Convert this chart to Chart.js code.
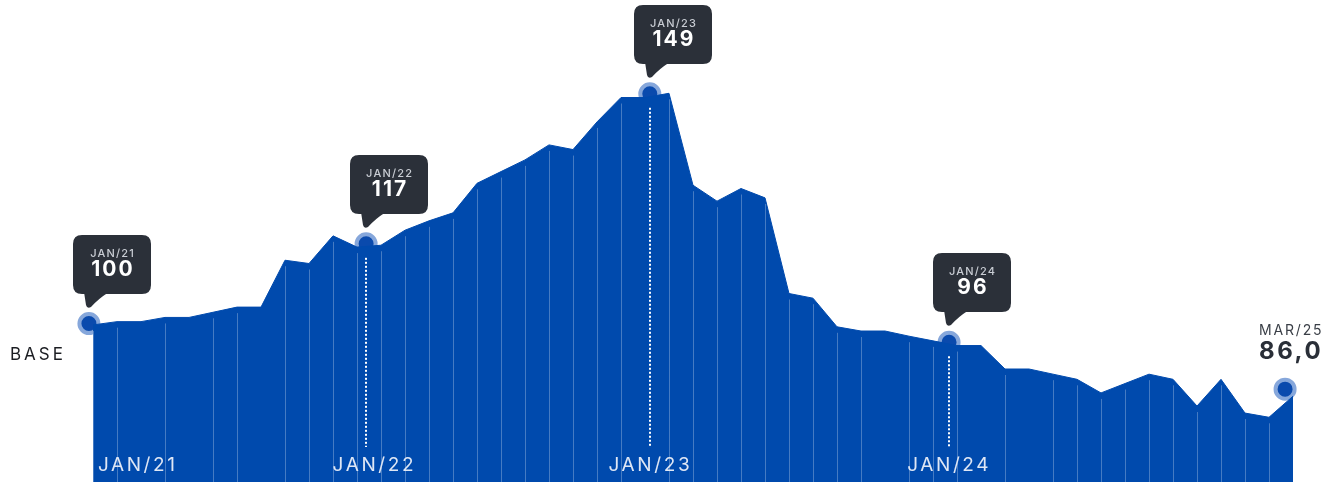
<!DOCTYPE html>
<html>
<head>
<meta charset="utf-8">
<script src="https://cdn.jsdelivr.net/npm/chart.js@4"></script>
<style>
  html, body { margin: 0; padding: 0; background: #ffffff; }
  #wrap { width: 1326px; height: 482px; position: relative; overflow: hidden; }
</style>
</head>
<body>
<div id="wrap"><canvas id="c" width="1326" height="482"></canvas></div>
<script>
// ---- data ----
const months = [
  'JAN/21','FEV/21','MAR/21','ABR/21','MAI/21','JUN/21','JUL/21','AGO/21','SET/21','OUT/21','NOV/21','DEZ/21',
  'JAN/22','FEV/22','MAR/22','ABR/22','MAI/22','JUN/22','JUL/22','AGO/22','SET/22','OUT/22','NOV/22','DEZ/22',
  'JAN/23','FEV/23','MAR/23','ABR/23','MAI/23','JUN/23','JUL/23','AGO/23','SET/23','OUT/23','NOV/23','DEZ/23',
  'JAN/24','FEV/24','MAR/24','ABR/24','MAI/24','JUN/24','JUL/24','AGO/24','SET/24','OUT/24','NOV/24','DEZ/24',
  'JAN/25','FEV/25','MAR/25'
];
const values = [
  99.7, 100.4, 100.4, 101.3, 101.3, 102.4, 103.5, 103.5, 113.5, 112.8,
  118.7, 116.3, 116.7, 119.9, 121.9, 123.6, 129.9, 132.4, 134.9, 138.1,
  137.1, 143.0, 148.2, 148.2, 149.1, 129.5, 126.1, 128.8, 126.8, 106.4,
  105.4, 99.3, 98.4, 98.4, 97.3, 96.3, 95.3, 95.3, 90.3, 90.3,
  89.2, 88.1, 85.2, 87.2, 89.2, 88.1, 82.4, 88.1, 80.9, 80.0,
  84.5
];
const highlightLabels = ['JAN/21', 'JAN/22', 'JAN/23', 'JAN/24', 'MAR/25'];
const highlightValues = [100, 117, 149, 96, 86.0];
const highlightText   = ['100', '117', '149', '96', '86,0'];
const highlightPos    = [-0.17, 11.38, 23.2, 35.67, 49.67];
const highlightGuide  = [false, true, true, true, false];
const highlightBubble = [true, true, true, true, false];
const axisLabels   = ['JAN/21', 'JAN/22', 'JAN/23', 'JAN/24'];
const axisLabelPos = [1.81, 11.67, 23.17, 35.62];
const baseLabel = 'BASE';

// ---- styles ----
const AREA = '#004aad';
const BUBBLE = '#2b3039';
const FONT = 'Inter, "Noto Sans", "DejaVu Sans", sans-serif';

function roundRectPath(ctx, x, y, w, h, r) {
  ctx.moveTo(x + r, y);
  ctx.lineTo(x + w - r, y);
  ctx.quadraticCurveTo(x + w, y, x + w, y + r);
  ctx.lineTo(x + w, y + h - r);
  ctx.quadraticCurveTo(x + w, y + h, x + w - r, y + h);
  ctx.lineTo(x + r, y + h);
  ctx.quadraticCurveTo(x, y + h, x, y + h - r);
  ctx.lineTo(x, y + r);
  ctx.quadraticCurveTo(x, y, x + r, y);
}

const overlay = {
  id: 'overlay',
  afterDatasetsDraw(chart) {
    const ctx = chart.ctx;
    const xs = chart.scales.x, ys = chart.scales.y;
    const bottom = chart.chartArea.bottom;
    ctx.save();

    // thin vertical lines at each change point
    ctx.strokeStyle = 'rgba(255,255,255,0.27)';
    ctx.lineWidth = 1;
    for (let i = 0; i < values.length - 1; i++) {
      if (i > 0 && values[i] === values[i - 1]) continue;
      const px = Math.round(xs.getPixelForValue(i)) + 0.5;
      const py = ys.getPixelForValue(values[i]) + 6;
      ctx.beginPath();
      ctx.moveTo(px, py);
      ctx.lineTo(px, bottom);
      ctx.stroke();
    }

    // dotted guides
    ctx.strokeStyle = '#ffffff';
    ctx.lineWidth = 2;
    ctx.setLineDash([2, 2]);
    highlightPos.forEach((p, i) => {
      if (!highlightGuide[i]) return;
      const px = Math.round(xs.getPixelForValue(p));
      const py = ys.getPixelForValue(highlightValues[i]);
      ctx.beginPath();
      ctx.moveTo(px, py + 14);
      ctx.lineTo(px, 447);
      ctx.stroke();
    });
    ctx.setLineDash([]);

    // bubbles
    highlightPos.forEach((p, i) => {
      const mx = xs.getPixelForValue(p);
      const my = ys.getPixelForValue(highlightValues[i]);
      if (highlightBubble[i]) {
        const w = 78, h = 59, r = 9;
        const left = Math.round(mx - 16), top = Math.round(my - 89), bot = top + h;
        ctx.fillStyle = BUBBLE;
        ctx.beginPath();
        roundRectPath(ctx, left, top, w, h, r);
        ctx.fill();
        ctx.beginPath();
        ctx.moveTo(left + 11, bot - 2);
        ctx.lineTo(left + 13, bot + 11);
        ctx.quadraticCurveTo(left + 14, bot + 15, left + 18, bot + 13);
        ctx.quadraticCurveTo(left + 25, bot + 5, left + 36, bot - 2);
        ctx.closePath();
        ctx.fill();
        const cx = left + w / 2;
        ctx.textAlign = 'center';
        ctx.textBaseline = 'alphabetic';
        ctx.fillStyle = '#c9cdd4';
        ctx.font = '500 11px ' + FONT;
        ctx.letterSpacing = '1.2px';
        ctx.fillText(highlightLabels[i], cx + 0.6, top + 21.5);
        ctx.fillStyle = '#ffffff';
        ctx.font = '700 21px ' + FONT;
        ctx.letterSpacing = '2px';
        ctx.fillText(highlightText[i], cx + 1, top + 41);
      } else {
        ctx.textAlign = 'left';
        ctx.textBaseline = 'alphabetic';
        ctx.fillStyle = '#3a3f47';
        ctx.font = '400 14px ' + FONT;
        ctx.letterSpacing = '1.8px';
        ctx.fillText(highlightLabels[i], mx - 26, 335);
        ctx.fillStyle = '#2a2f38';
        ctx.font = '700 24px ' + FONT;
        ctx.letterSpacing = '2.5px';
        ctx.fillText(highlightText[i], mx - 26, 359);
      }
    });

    // axis labels
    ctx.textAlign = 'center';
    ctx.textBaseline = 'alphabetic';
    ctx.fillStyle = '#dfe7f5';
    ctx.font = '400 19px ' + FONT;
    ctx.letterSpacing = '2.6px';
    axisLabels.forEach((t, i) => {
      ctx.fillText(t, xs.getPixelForValue(axisLabelPos[i]) + 1.3, 471);
    });

    // BASE
    ctx.textAlign = 'left';
    ctx.fillStyle = '#1b1d22';
    ctx.font = '400 17px ' + FONT;
    ctx.letterSpacing = '3px';
    ctx.fillText(baseLabel, 10, 360);

    ctx.restore();
  }
};

new Chart(document.getElementById('c'), {
  type: 'line',
  data: {
    labels: months,
    datasets: [
      {
        label: 'Índice',
        data: values.map((v, i) => ({ x: i, y: v })),
        fill: 'start',
        backgroundColor: AREA,
        borderColor: AREA,
        borderWidth: 1,
        pointRadius: 0,
        tension: 0,
        order: 1,
        clip: false
      },
      {
        label: 'Destaques',
        data: highlightPos.map((p, i) => ({ x: p, y: highlightValues[i] })),
        showLine: false,
        pointRadius: 9.5,
        pointBorderWidth: 4,
        pointBackgroundColor: '#0a4aad',
        pointBorderColor: '#86a7db',
        order: 2,
        clip: false
      }
    ]
  },
  options: {
    responsive: false,
    animation: false,
    layout: { padding: 0, autoPadding: false },
    plugins: { legend: { display: false }, tooltip: { enabled: false } },
    scales: {
      x: { type: 'linear', min: -3.875, max: 51.375, display: false },
      y: { min: 66.2, max: 169.0, display: false }
    }
  },
  plugins: [overlay]
});
</script>
</body>
</html>
